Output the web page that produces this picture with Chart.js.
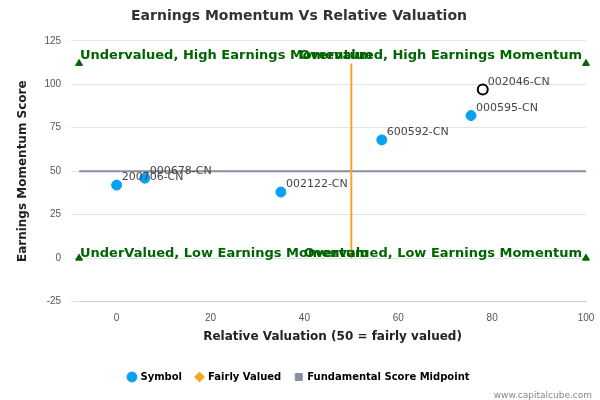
<!DOCTYPE html>
<html><head><script src="https://cdn.jsdelivr.net/npm/chart.js@4"></script>
<style>body{margin:0;background:#fff}#w{width:600px;height:400px;position:relative}</style></head>
<body><div id="w"><canvas id="c"></canvas></div>
<script>
const symbols=["200706-CN","000678-CN","002122-CN","600592-CN","000595-CN","002046-CN"];
const xVals=[0,6,35,56.5,75.5,78];
const yVals=[42,46,38,68,82,97];
const fairX=[50,50];const fairY=[0,112];
const midX=[-8,100];const midY=[50,50];
const corners=[[-8,112],[100,112],[-8,0],[100,0]];
const quadLabels=["Undervalued, High Earnings Momentum","Overvalued, High Earnings Momentum","UnderValued, Low Earnings Momentum","Overvalued, Low Earnings Momentum"];
const yTicks=[-25,0,25,50,75,100,125];
const labelPlugin={id:'lbl',afterDatasetsDraw(ch){const c=ch.ctx,xs=ch.scales.x,ys=ch.scales.y;c.save();
c.font='11px "DejaVu Sans"';c.fillStyle='#444';c.textBaseline='bottom';
symbols.forEach((s,i)=>{c.fillText(s,xs.getPixelForValue(xVals[i])+5,ys.getPixelForValue(yVals[i])-2);});
c.font='bold 13px "DejaVu Sans"';c.fillStyle='#006400';c.textBaseline='middle';
c.textAlign='left';c.fillText(quadLabels[0],80,56);c.fillText(quadLabels[2],80,254);
c.textAlign='right';c.fillText(quadLabels[1],582,56);c.fillText(quadLabels[3],582,254);
c.restore();}};
new Chart(document.getElementById('c'),{type:'scatter',
data:{datasets:[
{label:'Symbol',data:xVals.map((x,i)=>({x,y:yVals[i]})),backgroundColor:xVals.map((x,i)=>i==5?'#fff':'#0aa0f0'),borderColor:xVals.map((x,i)=>i==5?'#000':'#0aa0f0'),borderWidth:xVals.map((x,i)=>i==5?2:1),pointRadius:5,order:1},
{label:'Fairly Valued',type:'line',data:fairX.map((x,i)=>({x,y:fairY[i]})),borderColor:'#f5a623',backgroundColor:'#f5a623',borderWidth:2,pointRadius:0,pointStyle:'rectRot',order:2},
{label:'Fundamental Score Midpoint',type:'line',data:midX.map((x,i)=>({x,y:midY[i]})),borderColor:'#8890a0',backgroundColor:'#8890a0',borderWidth:2,pointRadius:0,pointStyle:'rect',order:3},
{label:'corners',clip:false,data:corners.map(p=>({x:p[0],y:p[1]})),pointStyle:'triangle',pointRadius:4,backgroundColor:'#006400',borderColor:'#006400'}
]},
options:{responsive:true,maintainAspectRatio:false,animation:false,
layout:{padding:{left:12,right:14,top:0,bottom:8}},
plugins:{title:{display:true,text:'Earnings Momentum Vs Relative Valuation',font:{size:14,weight:'bold',family:'DejaVu Sans'},color:'#333',padding:{top:8,bottom:16}},
legend:{position:'bottom',labels:{usePointStyle:true,boxWidth:7,boxHeight:7,padding:14,font:{size:10,weight:'bold',family:'DejaVu Sans'},color:'#333',
generateLabels(ch){return ch.data.datasets.slice(0,3).map((d,i)=>({text:d.label,fillStyle:i==0?'#0aa0f0':d.borderColor,strokeStyle:i==0?'#0aa0f0':d.borderColor,pointStyle:i==0?'circle':d.pointStyle,lineWidth:1,datasetIndex:i}));}}},
tooltip:{enabled:false}},
scales:{x:{type:'linear',min:-8,max:100,afterBuildTicks(s){s.ticks=[0,20,40,60,80,100].map(v=>({value:v}));},grid:{display:false},border:{color:'#ccc'},ticks:{font:{size:10},color:'#555'},
title:{display:true,text:'Relative Valuation (50 = fairly valued)',font:{size:12,weight:'bold',family:'DejaVu Sans'},color:'#222',padding:{top:2,bottom:14}}},
y:{min:-25,max:125,afterBuildTicks(s){s.ticks=yTicks.map(v=>({value:v}));},grid:{color:'#e4e4e4'},border:{display:false},ticks:{font:{size:10},color:'#555',padding:10},
title:{display:true,text:'Earnings Momentum Score',font:{size:12,weight:'bold',family:'DejaVu Sans'},color:'#222'}}}},
plugins:[labelPlugin,{id:'wm',afterDraw(ch){const c=ch.ctx;c.save();c.font='9px "DejaVu Sans"';c.fillStyle='#888';c.textAlign='right';c.fillText('www.capitalcube.com',592,396);c.restore();}}]
});
</script></body></html>
